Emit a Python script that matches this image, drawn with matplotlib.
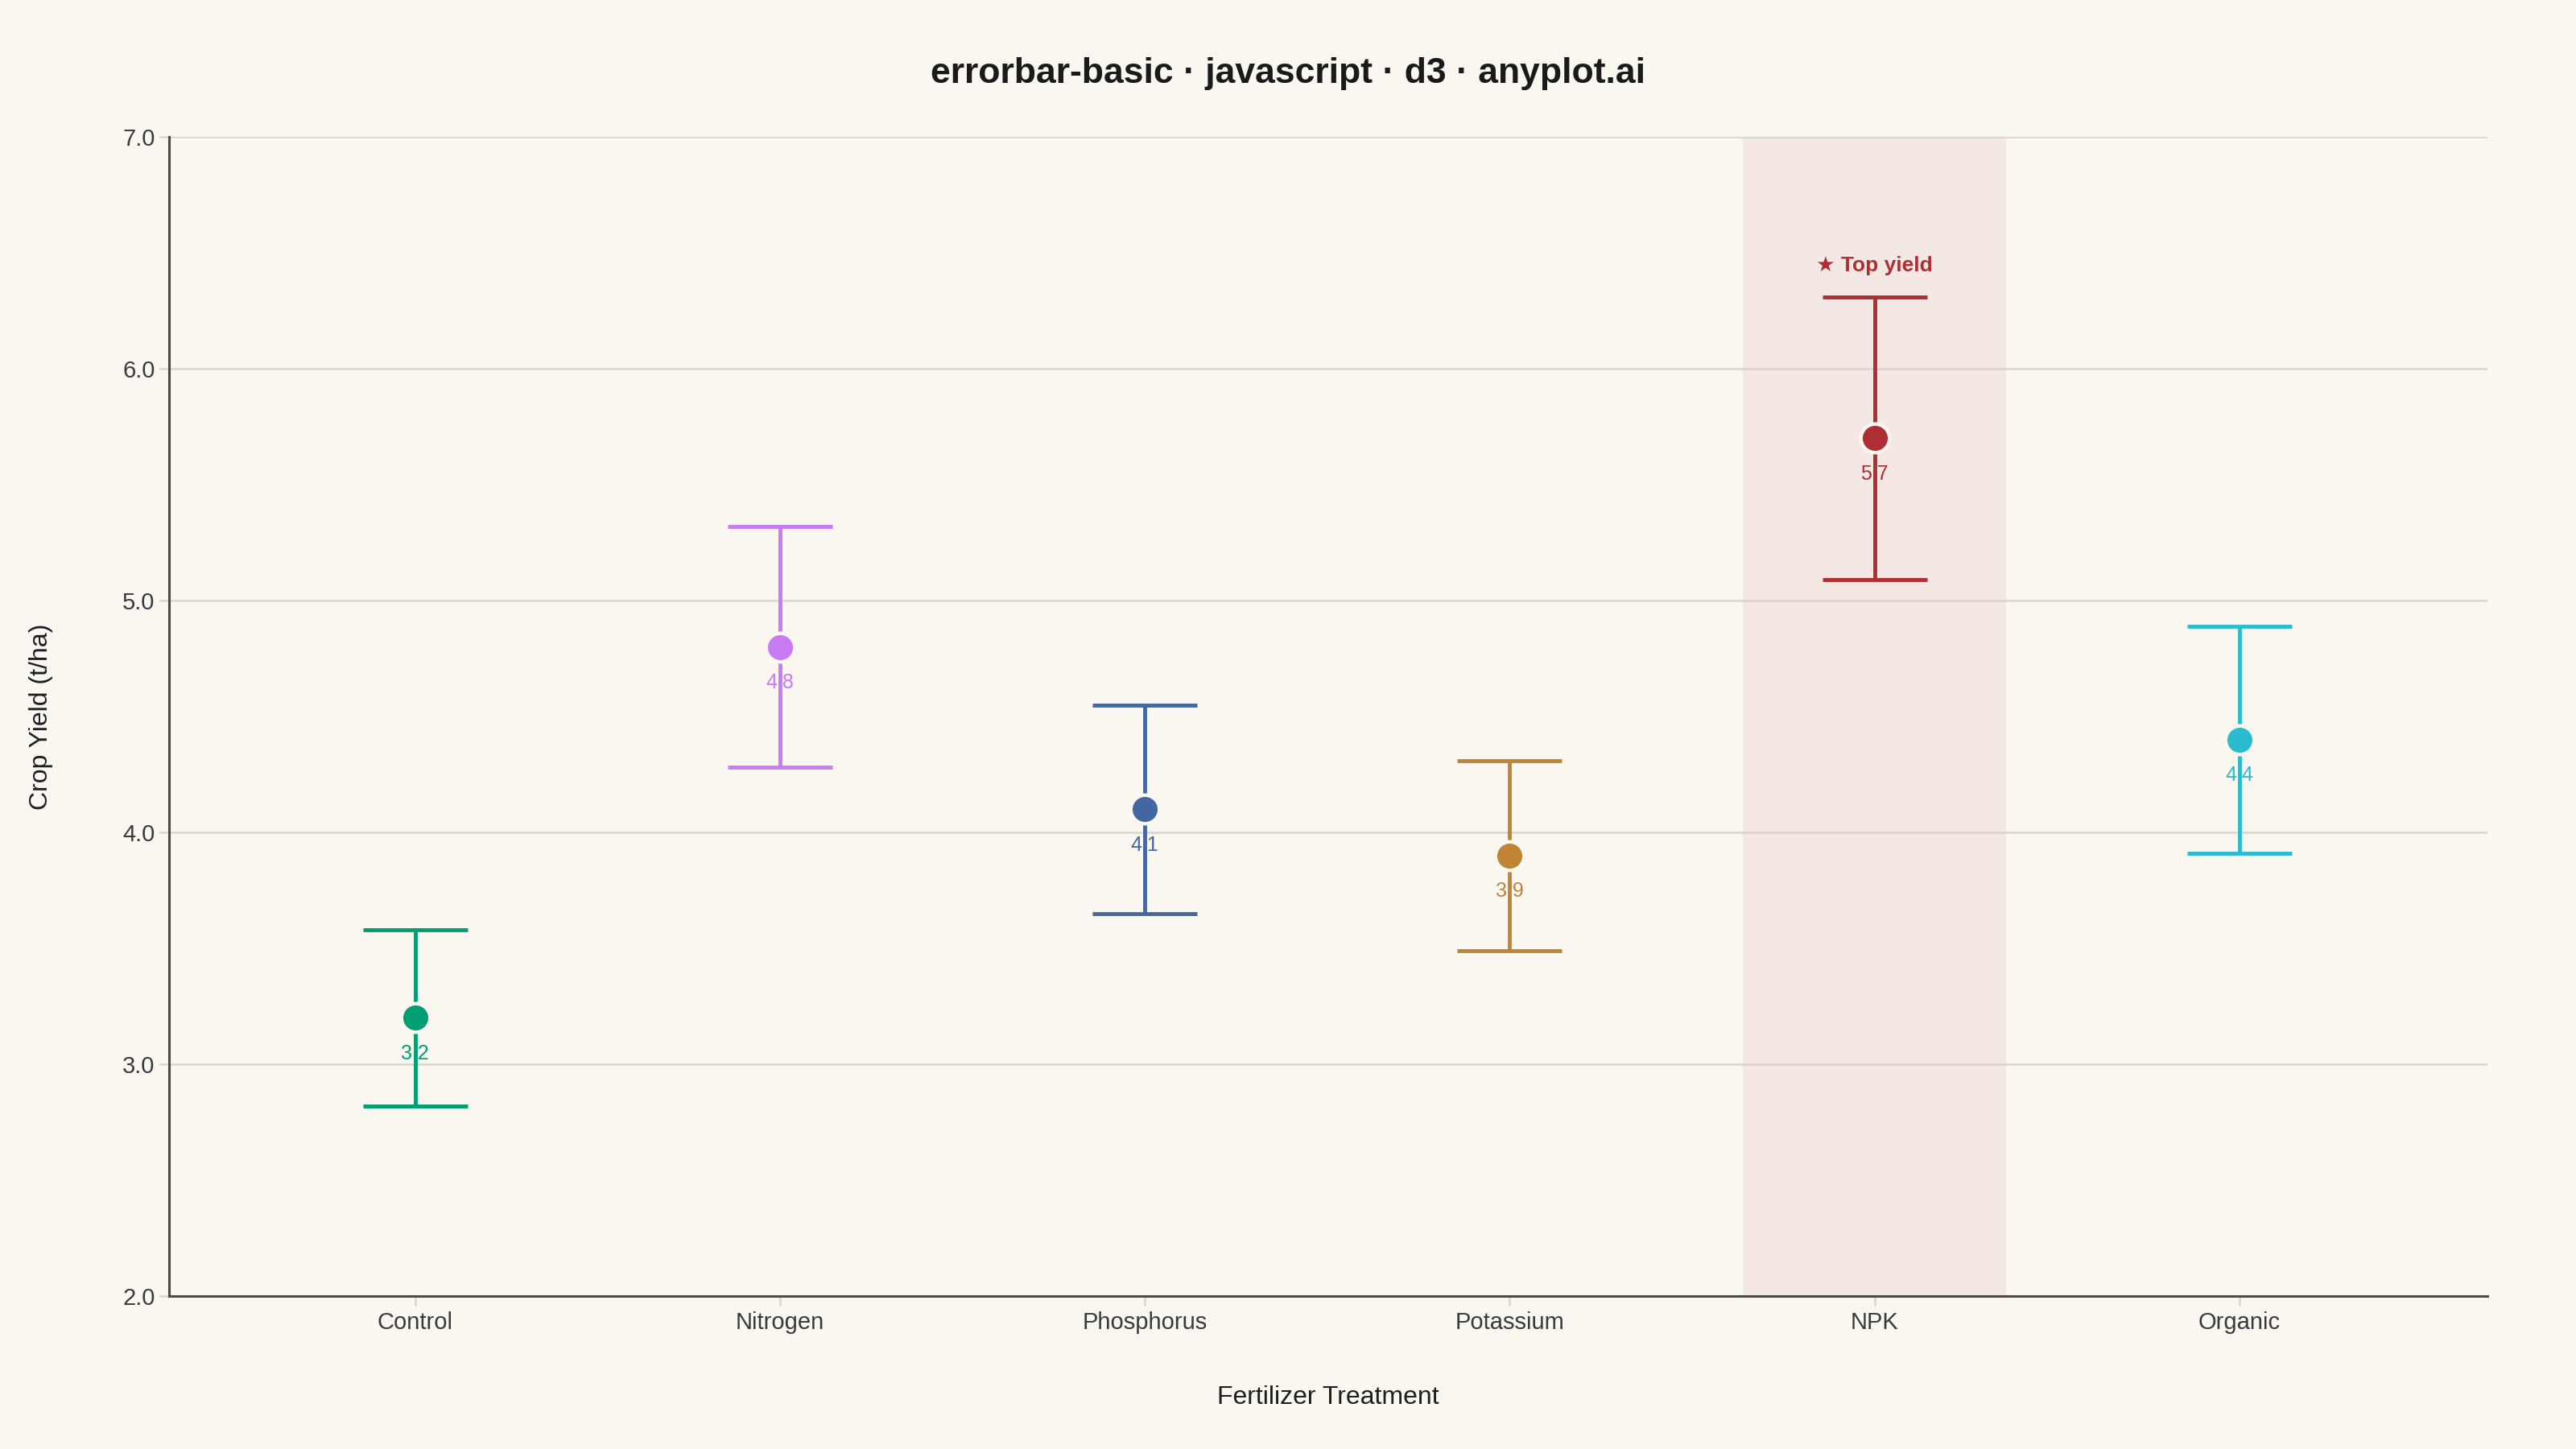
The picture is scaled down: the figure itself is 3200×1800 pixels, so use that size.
import numpy as np
import matplotlib.pyplot as plt

# Data
treatments = ['Control', 'Nitrogen', 'Phosphorus', 'Potassium', 'NPK', 'Organic']
yield_mean = [3.2, 4.8, 4.1, 3.9, 5.7, 4.4]
yield_err = [0.38, 0.52, 0.45, 0.41, 0.61, 0.49]
colors = ['#009E73', '#C77CF3', '#4466A3', '#BF8435', '#AF2E33', '#2BBBCF']
highlight = 'NPK'
y_ticks = [2.0, 3.0, 4.0, 5.0, 6.0, 7.0]

BG = '#FAF7F1'
GRID = '#D8D5CE'
AXIS = '#4A4A46'
TEXT = '#3A3A3A'

plt.rcParams['font.family'] = ['Liberation Sans', 'DejaVu Sans']

fig = plt.figure(figsize=(16, 9), dpi=200, facecolor=BG)
ax = fig.add_axes([0.0656, 0.1056, 0.9, 0.8])
ax.set_facecolor(BG)

x = np.arange(len(treatments))

# highlight band behind the top treatment
hi = treatments.index(highlight)
ax.axvspan(hi - 0.36, hi + 0.36, color='#F3E8E3', zorder=0, lw=0)

for i, name in enumerate(treatments):
    c = colors[i]
    ax.errorbar(x[i], yield_mean[i], yerr=yield_err[i], fmt='none', ecolor=c,
                elinewidth=1.75, capsize=23.4, capthick=1.75, zorder=3)
    ax.plot(x[i], yield_mean[i], 'o', ms=12.8, mfc=c, mec=BG, mew=1.6, zorder=4)
    ax.annotate(f'{yield_mean[i]:.1f}', (x[i], yield_mean[i]), xytext=(0, -16),
                textcoords='offset points', ha='center', va='center',
                fontsize=9, color=c, zorder=2)

# label the top yield
ax.annotate('★ Top yield', (x[hi], yield_mean[hi] + yield_err[hi]), xytext=(0, 14),
            textcoords='offset points', ha='center', va='center',
            fontsize=9.5, fontweight='bold', color=colors[hi])

ax.set_xlim(-0.675, 5.68)
ax.set_ylim(2.0, 7.0)
ax.set_yticks(y_ticks)
ax.set_yticklabels([f'{v:.1f}' for v in y_ticks])
ax.set_xticks(x)
ax.set_xticklabels(treatments)

ax.grid(axis='y', color=GRID, lw=0.9, zorder=1)
ax.set_axisbelow(True)
for s in ['top', 'right']:
    ax.spines[s].set_visible(False)
for s in ['left', 'bottom']:
    ax.spines[s].set_color(AXIS)
    ax.spines[s].set_linewidth(1.1)

ax.tick_params(axis='both', colors=GRID, length=4.3, width=0.9, labelsize=10.5,
               labelcolor=TEXT)
ax.tick_params(axis='y', pad=2)
ax.tick_params(axis='x', pad=2.5)

ax.set_xlabel('Fertilizer Treatment', fontsize=11.5, color='#1E1E1E', labelpad=23)
ax.set_ylabel('Crop Yield (t/ha)', fontsize=11.5, color='#1E1E1E', labelpad=31)

fig.text(0.5, 0.949, 'errorbar-basic · javascript · d3 · anyplot.ai', ha='center',
         va='center', fontsize=16, fontweight='bold', color='#1A1A1A')

fig.savefig('out.png', dpi=200, facecolor=BG)
